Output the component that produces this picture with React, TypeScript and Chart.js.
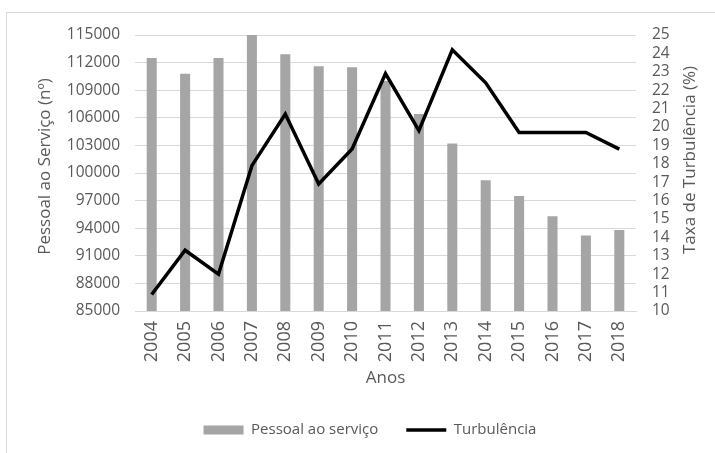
import React, { useEffect, useRef } from "react";
import { Chart, registerables } from "chart.js";

Chart.register(...registerables);

const years = ["2004", "2005", "2006", "2007", "2008", "2009", "2010", "2011", "2012", "2013", "2014", "2015", "2016", "2017", "2018"];
const pessoal = [112500, 110800, 112500, 115000, 112900, 111600, 111500, 110000, 106400, 103200, 99200, 97500, 95300, 93200, 93800];
const turbulencia = [10.9, 13.3, 12.0, 17.9, 20.7, 16.9, 18.8, 22.9, 19.8, 24.2, 22.4, 19.7, 19.7, 19.7, 18.8];

const leftTitle = "Pessoal ao Serviço (nº)";
const rightTitle = "Taxa de Turbulência (%)";
const xTitle = "Anos";
const barLabel = "Pessoal ao serviço";
const lineLabel = "Turbulência";

const FONT = "'Open Sans', sans-serif";
const TEXT = "#595959";
const GRID = "#d9d9d9";
const BAR = "#a5a5a5";

export default function App() {
  const ref = useRef<HTMLCanvasElement | null>(null);

  useEffect(() => {
    if (!ref.current) return;
    const titlesPlugin = {
      id: "sideTitles",
      afterDraw(chart: any) {
        const ctx = chart.ctx;
        ctx.save();
        ctx.fillStyle = TEXT;
        ctx.font = `17px ${FONT}`;
        ctx.textAlign = "center";
        ctx.textBaseline = "middle";
        ctx.translate(45, 166.5);
        ctx.rotate(-Math.PI / 2);
        ctx.fillText(leftTitle, 0, 0);
        ctx.restore();
        ctx.save();
        ctx.fillStyle = TEXT;
        ctx.font = `17px ${FONT}`;
        ctx.textAlign = "center";
        ctx.textBaseline = "middle";
        ctx.translate(690, 160);
        ctx.rotate(-Math.PI / 2);
        ctx.fillText(rightTitle, 0, 0);
        ctx.restore();
      },
    };

    const chart = new Chart(ref.current, {
      type: "bar",
      data: {
        labels: years,
        datasets: [
          {
            type: "line",
            label: lineLabel,
            data: turbulencia,
            borderColor: "#000000",
            backgroundColor: "#000000",
            borderWidth: 3.5,
            pointRadius: 0,
            tension: 0,
            yAxisID: "y1",
            order: 0,
          } as any,
          {
            type: "bar",
            label: barLabel,
            data: pessoal,
            backgroundColor: BAR,
            borderWidth: 0,
            barPercentage: 0.3,
            categoryPercentage: 1.0,
            yAxisID: "y",
            order: 1,
          } as any,
        ],
      },
      options: {
        animation: false,
        responsive: false,
        devicePixelRatio: 1,
        layout: { padding: { left: 25, right: 0, top: 35, bottom: 5.5 } },
        plugins: {
          tooltip: { enabled: false },
          legend: {
            position: "bottom",
            labels: {
              usePointStyle: true,
              pointStyleWidth: 40,
              boxHeight: 9,
              padding: 28,
              color: TEXT,
              font: { family: FONT, size: 15 },
              generateLabels: () => [
                {
                  text: barLabel,
                  fillStyle: BAR,
                  strokeStyle: BAR,
                  lineWidth: 0,
                  pointStyle: "rect",
                  datasetIndex: 1,
                  fontColor: TEXT,
                  hidden: false,
                },
                {
                  text: lineLabel,
                  fillStyle: "#000000",
                  strokeStyle: "#000000",
                  lineWidth: 3.5,
                  pointStyle: "line",
                  datasetIndex: 0,
                  fontColor: TEXT,
                  hidden: false,
                },
              ],
            },
          },
        },
        scales: {
          x: {
            grid: { display: false, drawTicks: false },
            border: { display: true, color: GRID, width: 1 },
            ticks: {
              color: TEXT,
              font: { family: FONT, size: 18 },
              minRotation: 90,
              maxRotation: 90,
              autoSkip: false,
              padding: 10,
            },
            title: {
              display: true,
              text: xTitle,
              color: TEXT,
              font: { family: FONT, size: 17 },
              padding: { top: 0, bottom: 6.3 },
            },
            afterFit: (s: any) => {
              s.height = 83.5;
            },
          },
          y: {
            position: "left",
            min: 85000,
            max: 115000,
            grid: { color: GRID, lineWidth: 1, drawTicks: false },
            border: { display: false },
            ticks: {
              stepSize: 3000,
              color: TEXT,
              font: { family: FONT, size: 15.5 },
              padding: 15,
              autoSkip: false,
              callback: (v: any) => String(v),
            },
            afterFit: (s: any) => {
              s.width = 110;
            },
          },
          y1: {
            position: "right",
            min: 10,
            max: 25,
            grid: { display: false, drawTicks: false },
            border: { display: false },
            ticks: {
              stepSize: 1,
              color: TEXT,
              font: { family: FONT, size: 15.5 },
              padding: 16,
              autoSkip: false,
              callback: (v: any) => String(v),
            },
            afterFit: (s: any) => {
              s.width = 79;
            },
          },
        },
      },
      plugins: [titlesPlugin],
    } as any);
    return () => chart.destroy();
  }, []);

  return (
    <div style={{ position: "fixed", left: 0, top: 0, width: 715, height: 453, overflow: "hidden", background: "#ffffff" }}>
      <div style={{ position: "absolute", left: 6, top: 12, width: 800, height: 600, border: `1px solid ${GRID}`, boxSizing: "border-box" }} />
      <canvas ref={ref} width={715} height={453} style={{ position: "absolute", left: 0, top: 0, width: 715, height: 453 }} />
    </div>
  );
}
